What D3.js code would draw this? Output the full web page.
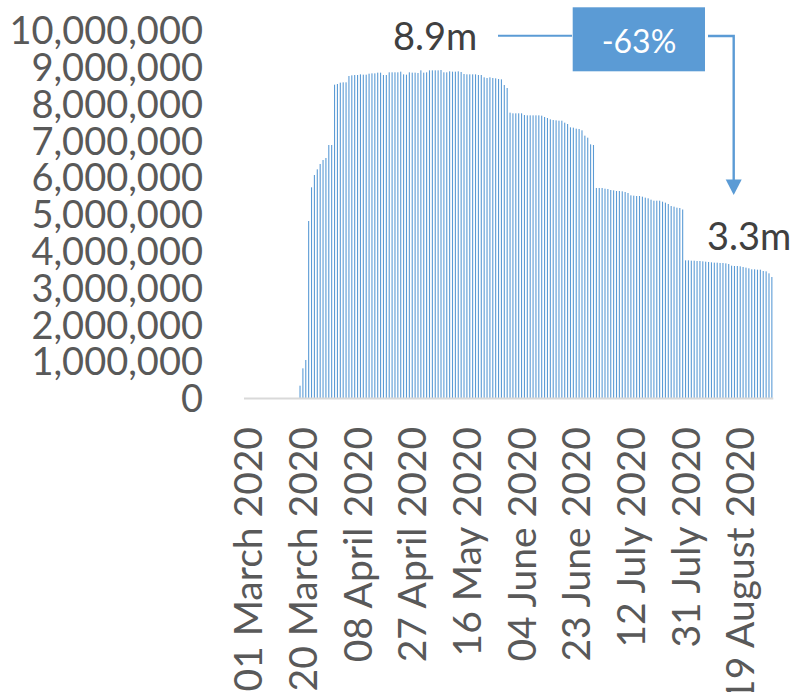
<!DOCTYPE html>
<html>
<head>
<meta charset="utf-8">
<script src="https://cdn.jsdelivr.net/npm/d3@7"></script>
<style>
  html, body { margin: 0; padding: 0; background: #fff; }
  svg { display: block; }
  text { font-family: Lato, "Liberation Sans", sans-serif; }
</style>
</head>
<body>
<svg id="chart" width="795" height="692"></svg>
<script>
// ---- data ----
const startDate = "2020-03-01";
// daily values in millions, 01 March 2020 .. 30 August 2020
const valuesM = [
  0,0,0,0,0,0,0,0,0,0,0,0,0,0,0,0,0,0,
  0.335,0.806,1.033,4.810,5.725,6.060,6.214,6.359,6.467,6.522,6.875,6.875,
  8.514,8.533,8.569,8.578,8.578,8.750,8.768,8.777,8.777,8.795,
  8.786,8.786,8.813,8.822,8.822,8.841,8.841,8.777,8.777,8.850,
  8.850,8.850,8.850,8.868,8.795,8.786,8.850,8.841,8.841,8.832,
  8.904,8.841,8.850,8.904,8.904,8.904,8.904,8.913,8.850,8.850,
  8.877,8.868,8.868,8.877,8.859,8.804,8.795,8.795,8.795,8.795,
  8.777,8.777,8.714,8.696,8.714,8.696,8.687,8.668,8.659,8.505,
  8.424,7.754,7.736,7.736,7.736,7.736,7.690,7.681,7.681,7.681,
  7.681,7.681,7.672,7.636,7.609,7.572,7.554,7.545,7.536,7.536,
  7.482,7.446,7.355,7.346,7.319,7.310,7.274,7.129,7.074,6.893,
  6.875,5.707,5.707,5.707,5.688,5.679,5.652,5.643,5.625,5.625,
  5.616,5.598,5.571,5.507,5.498,5.489,5.489,5.471,5.444,5.426,
  5.389,5.362,5.362,5.362,5.335,5.308,5.272,5.217,5.199,5.172,
  5.163,5.122,3.741,3.741,3.732,3.732,3.723,3.723,3.714,3.705,
  3.696,3.687,3.678,3.678,3.669,3.669,3.659,3.641,3.596,3.587,
  3.587,3.578,3.560,3.542,3.524,3.497,3.497,3.487,3.487,3.451,
  3.442,3.388,3.288
];
const tickLabels = ["01 March 2020","20 March 2020","08 April 2020","27 April 2020",
  "16 May 2020","04 June 2020","23 June 2020","12 July 2020","31 July 2020","19 August 2020"];
const yTicks = [0,1e6,2e6,3e6,4e6,5e6,6e6,7e6,8e6,9e6,1e7];
const annStart = "8.9m", annEnd = "3.3m", annChange = "-63%";

// ---- build ----
const parse = d3.timeParse("%Y-%m-%d");
const fmtDate = d3.timeFormat("%d %B %Y");
const d0 = parse(startDate);
const data = valuesM.map((v, i) => ({ date: d3.timeDay.offset(d0, i), value: v * 1e6 }));
const keys = data.map(d => fmtDate(d.date));

const svg = d3.select("#chart");
const x = d3.scaleBand().domain(keys).range([246.8, 773.3]).paddingInner(0.62).paddingOuter(0.31);
const y = d3.scaleLinear().domain([0, 1e7]).range([398, 30]);
const blue = "#5B9BD5";

// bars
svg.append("g").selectAll("rect").data(data).join("rect")
  .attr("x", d => x(fmtDate(d.date)))
  .attr("width", x.bandwidth())
  .attr("y", d => y(d.value))
  .attr("height", d => y(0) - y(d.value))
  .attr("fill", blue);

// x axis line
svg.append("line")
  .attr("x1", 244).attr("x2", x.range()[1])
  .attr("y1", y(0) + 0.4).attr("y2", y(0) + 0.4)
  .attr("stroke", "#D9D9D9").attr("stroke-width", 2);

// x tick labels
const xg = svg.append("g").attr("transform", `translate(0,${y(0)})`)
  .call(d3.axisBottom(x).tickValues(tickLabels).tickSize(0).tickPadding(0));
xg.select(".domain").remove();
xg.selectAll("text")
  .attr("transform", "rotate(-90)")
  .attr("x", -29).attr("y", 0).attr("dy", "0.36em")
  .attr("text-anchor", "end")
  .attr("fill", "#595959")
  .style("font-size", "39px")
  .style("font-family", "Lato, 'Liberation Sans', sans-serif");

// y axis labels
const yg = svg.append("g").attr("transform", "translate(203,0)")
  .call(d3.axisLeft(y).tickValues(yTicks).tickFormat(d3.format(",")).tickSize(0).tickPadding(0));
yg.select(".domain").remove();
yg.selectAll("text")
  .attr("fill", "#595959")
  .attr("dy", "0.36em")
  .style("font-size", "38px")
  .style("font-family", "Lato, 'Liberation Sans', sans-serif");

// annotations
const ann = svg.append("g");
ann.append("text").attr("x", 393).attr("y", 36).attr("dy", "0.36em")
  .attr("fill", "#404040").style("font-size", "38px").text(annStart);
ann.append("line").attr("x1", 498).attr("x2", 572).attr("y1", 35.8).attr("y2", 35.8)
  .attr("stroke", blue).attr("stroke-width", 2);
ann.append("rect").attr("x", 572.7).attr("y", 7.3).attr("width", 132.3).attr("height", 64)
  .attr("fill", blue);
ann.append("text").attr("x", 639).attr("y", 41).attr("dy", "0.36em").attr("text-anchor", "middle")
  .attr("fill", "#ffffff").style("font-size", "32px").text(annChange);
ann.append("path").attr("d", "M708,36 H733.7 V181")
  .attr("fill", "none").attr("stroke", blue).attr("stroke-width", 2.4);
ann.append("path").attr("d", "M725.7,179.5 L741.7,179.5 L733.7,195 Z").attr("fill", blue);
ann.append("text").attr("x", 707).attr("y", 236).attr("dy", "0.36em")
  .attr("fill", "#404040").style("font-size", "38px").text(annEnd);
</script>
</body>
</html>
